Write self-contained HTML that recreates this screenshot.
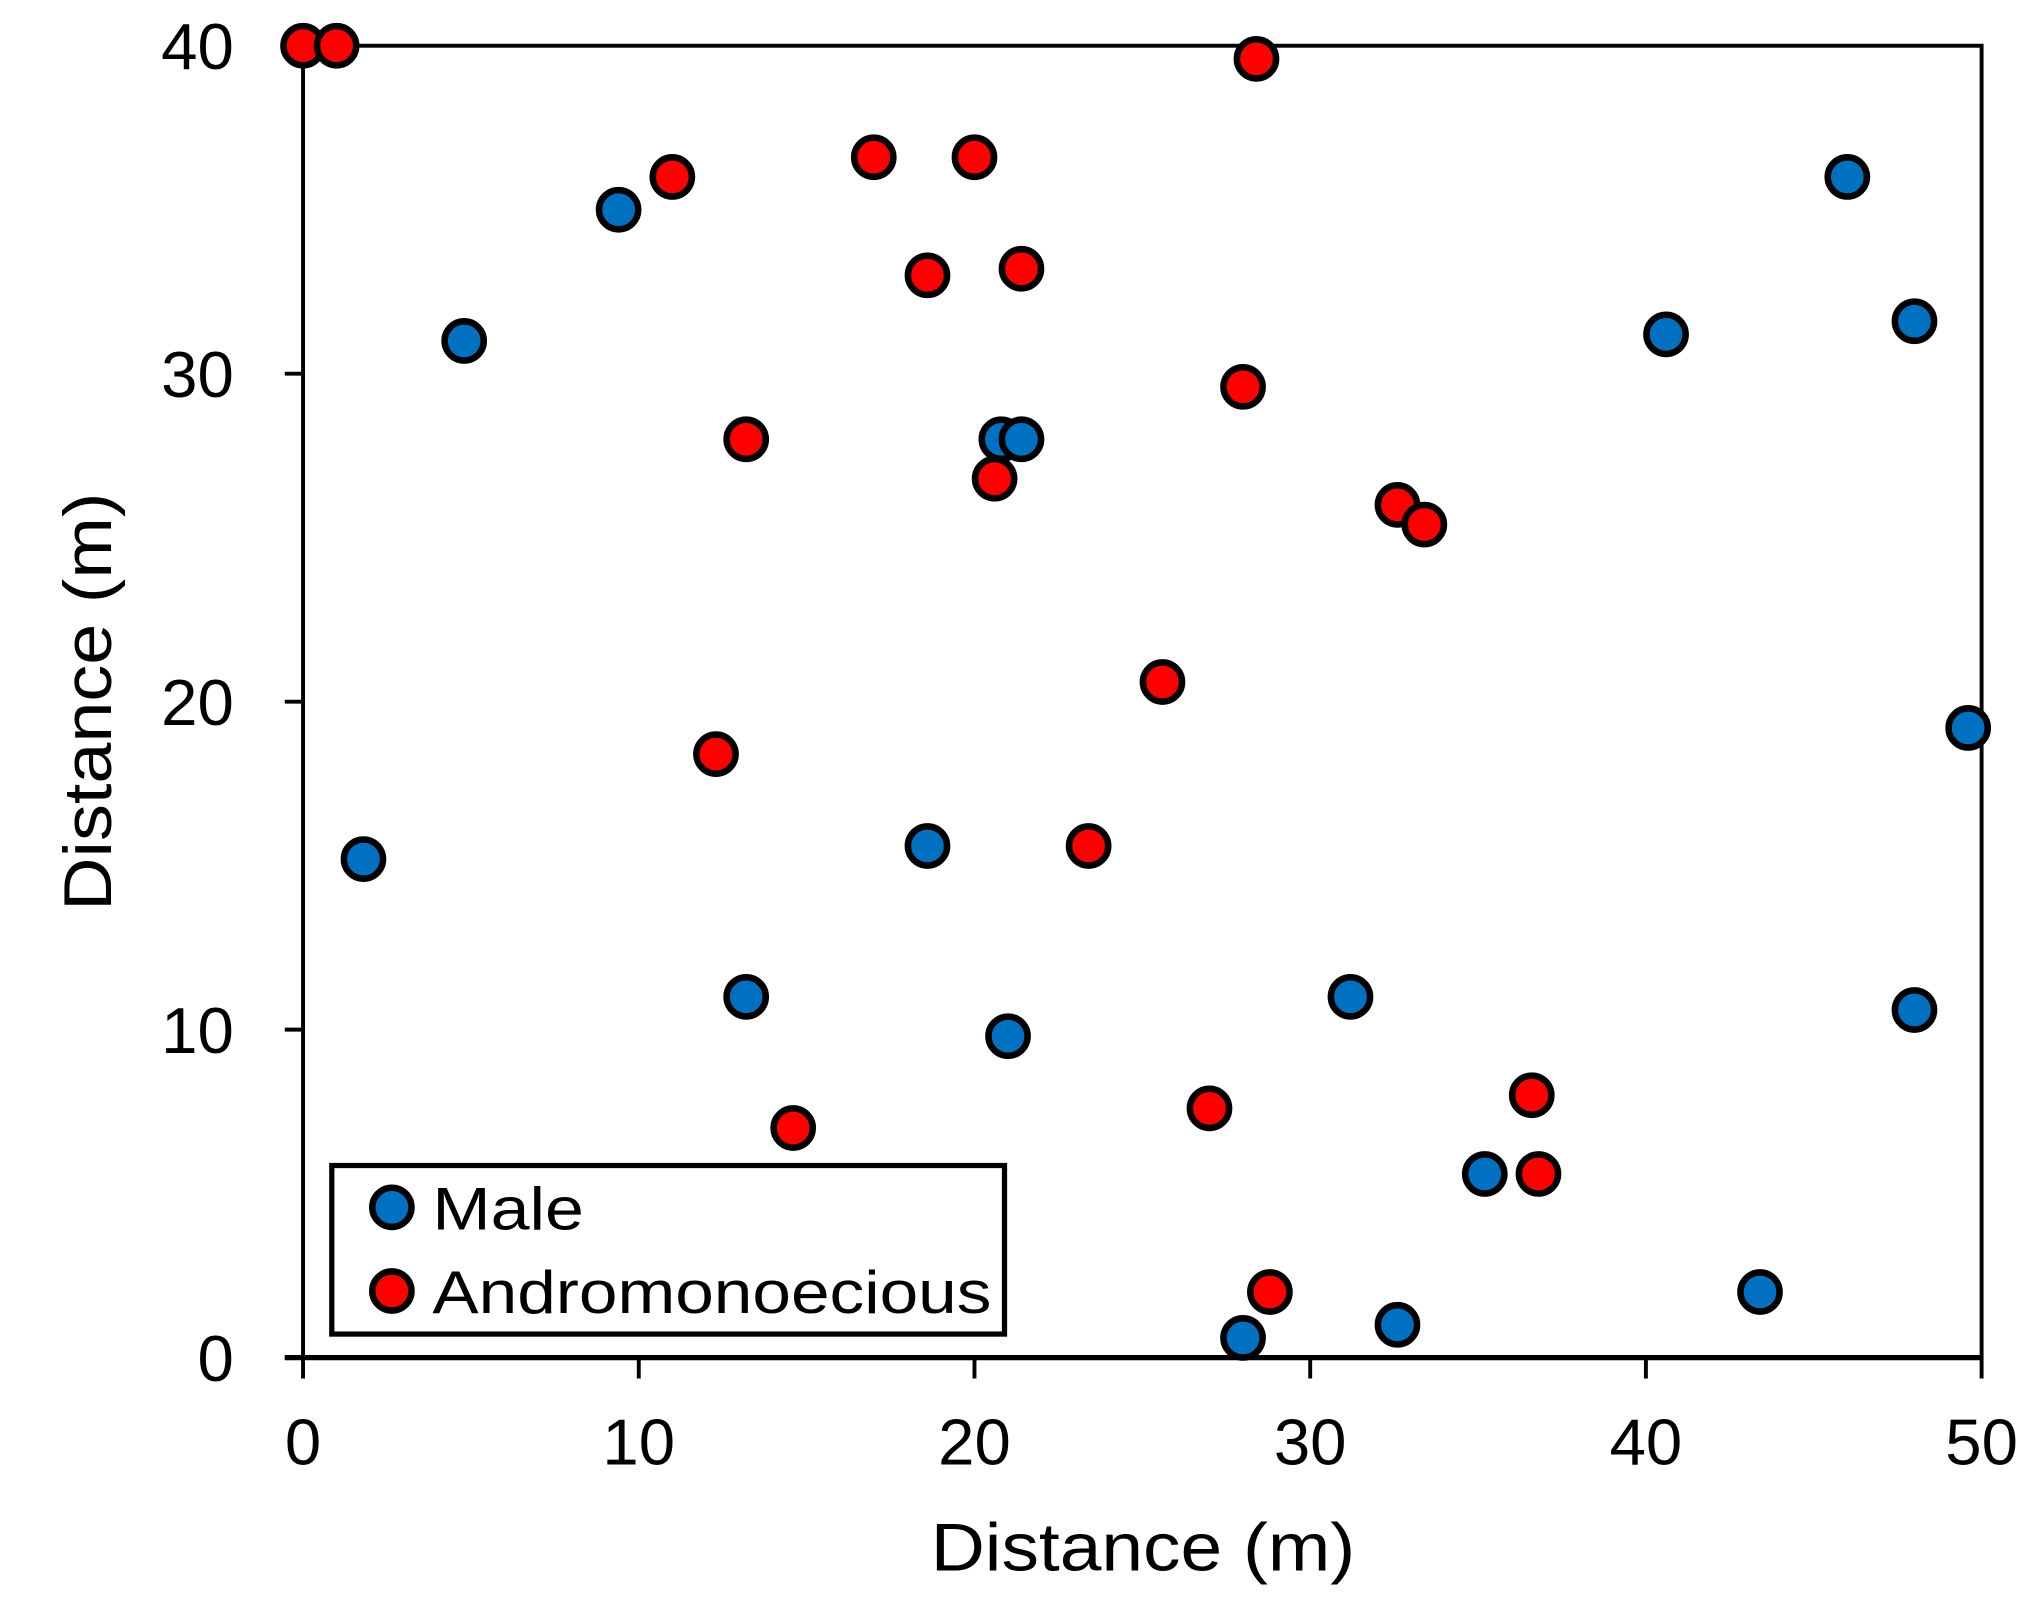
<!DOCTYPE html>
<html><head><meta charset="utf-8"><style>
html,body{margin:0;padding:0;background:#fff;}
svg{display:block;}
text{font-family:"Liberation Sans",sans-serif;fill:#000;}
</style></head><body>
<svg id="chart" width="2043" height="1615" viewBox="0 0 1564 1236" preserveAspectRatio="none" xmlns="http://www.w3.org/2000/svg">
<rect x="0" y="0" width="1564" height="1236" fill="#fff"/>
<g id="plot"></g>
</svg>
<script>
const maleX = [1.8, 4.8, 9.4, 13.2, 18.6, 20.8, 21.4, 21.0, 28.0, 31.2, 32.6, 35.2, 40.6, 43.4, 46.0, 48.0, 48.0, 49.6];
const maleY = [15.2, 31.0, 35.0, 11.0, 15.6, 28.0, 28.0, 9.8, 0.6, 11.0, 1.0, 5.6, 31.2, 2.0, 36.0, 31.6, 10.6, 19.2];
const andX = [0, 1.0, 28.4, 11.0, 17.0, 20.0, 18.6, 21.4, 13.2, 28.0, 20.6, 32.6, 33.4, 25.6, 12.3, 23.4, 14.6, 27.0, 36.6, 36.8, 28.8];
const andY = [40, 40, 39.6, 36.0, 36.6, 36.6, 33.0, 33.2, 28.0, 29.6, 26.8, 26.0, 25.4, 20.6, 18.4, 15.6, 7.0, 7.6, 8.0, 5.6, 2.0];
const xTicks = [0, 10, 20, 30, 40, 50];
const yTicks = [0, 10, 20, 30, 40];

const L = 232, R = 1517, T = 35, B = 1039;
const xMin = 0, xMax = 50, yMin = 0, yMax = 40;
function sx(v){ return L + (v - xMin) / (xMax - xMin) * (R - L); }
function sy(v){ return B - (v - yMin) / (yMax - yMin) * (B - T); }

const NS = "http://www.w3.org/2000/svg";
const g = document.getElementById('plot');
function mk(tag, attrs, parent){
  const e = document.createElementNS(NS, tag);
  for (const k in attrs) e.setAttribute(k, attrs[k]);
  (parent || g).appendChild(e);
  return e;
}

let fr = mk('rect', {x:L, y:T, width:R-L, height:B-T, fill:'none', stroke:'#000', 'stroke-width':3});


let xa = mk('line', {x1:L-14, y1:B, x2:R, y2:B, stroke:'#000', 'stroke-width':4});



xTicks.forEach(v => {
  const t = mk('line', {x1:sx(v), y1:B, x2:sx(v), y2:B+16, stroke:'#000', 'stroke-width':3});
  
  
  const lb = mk('text', {x:sx(v), y:1121, 'font-size':50, 'text-anchor':'middle'});
  lb.textContent = v;
  
  
});
yTicks.forEach(v => {
  const t = mk('line', {x1:L-14, y1:sy(v), x2:L, y2:sy(v), stroke:'#000', 'stroke-width':3});
  
  
  const lb = mk('text', {x:179, y:sy(v)+18, 'font-size':50, 'text-anchor':'end'});
  lb.textContent = v;
  
  
});

const xt = mk('text', {x:875, y:1202, 'font-size':52, 'text-anchor':'middle', textLength:325, lengthAdjust:'spacingAndGlyphs'});
xt.textContent = 'Distance (m)';


const yt = mk('text', {x:0, y:0, 'font-size':52, 'text-anchor':'middle', textLength:320, lengthAdjust:'spacingAndGlyphs', transform:'translate(85,537) rotate(-90)'});
yt.textContent = 'Distance (m)';



function pt(x, y, fill, name){
  const c = mk('circle', {cx:x, cy:y, r:15, fill:fill, stroke:'#000', 'stroke-width':5});
  
  
  return c;
}
maleX.forEach((v,i) => pt(sx(v), sy(maleY[i]), '#0070C0', 'male-point'));
andX.forEach((v,i) => pt(sx(v), sy(andY[i]), '#FF0000', 'andromonoecious-point'));

const lg = mk('g', {});


const lb = mk('rect', {x:254, y:892, width:515, height:129, fill:'#fff', stroke:'#000', 'stroke-width':4}, lg);


const m1 = pt(300, 924, '#0070C0', 'legend-marker-male'); lg.appendChild(m1);
const t1 = mk('text', {x:331, y:941, 'font-size':46, textLength:116, lengthAdjust:'spacingAndGlyphs'}, lg);
t1.textContent = 'Male';


const m2 = pt(300, 988, '#FF0000', 'legend-marker-andromonoecious'); lg.appendChild(m2);
const t2 = mk('text', {x:331, y:1005, 'font-size':46, textLength:428, lengthAdjust:'spacingAndGlyphs'}, lg);
t2.textContent = 'Andromonoecious';


</script>
</body></html>
